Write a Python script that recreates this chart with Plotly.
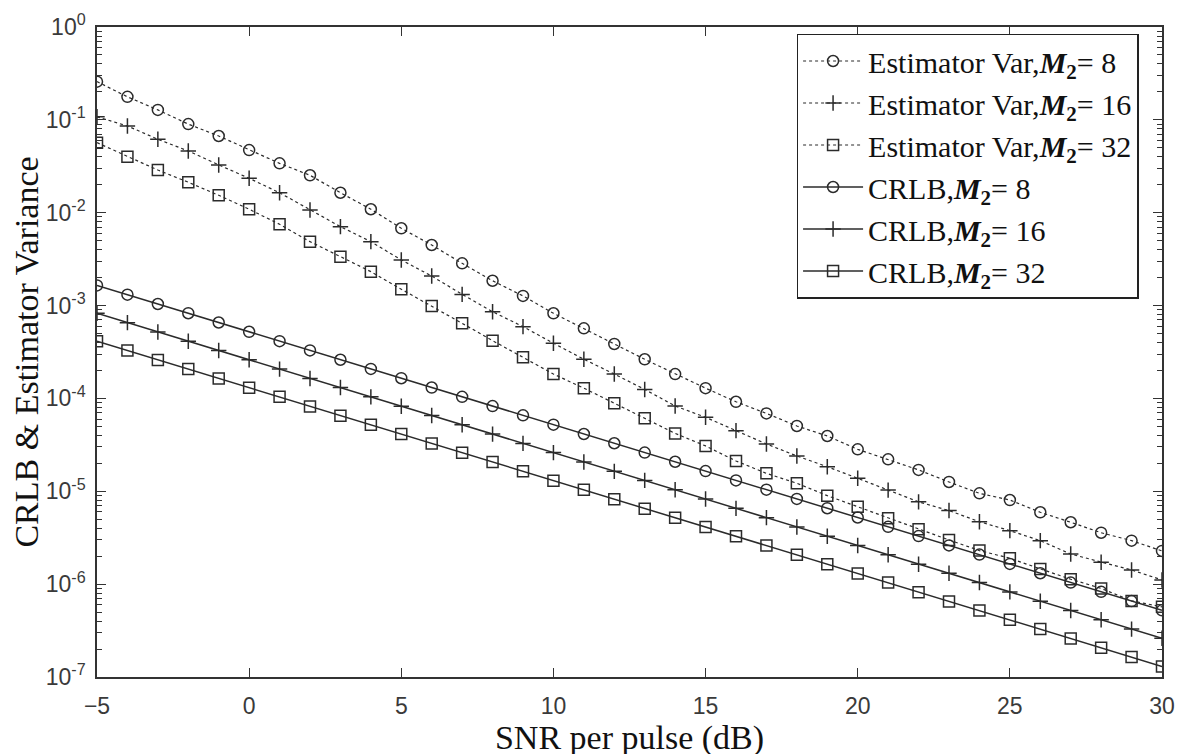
import plotly.graph_objects as go

snr_db = list(range(-5, 31))

est_var_m8 = [0.258, 0.177, 0.128, 0.090, 0.067, 0.0473, 0.034, 0.0253, 0.0164, 0.0109,
              0.0068, 0.00449, 0.00285, 0.00185, 0.00127, 0.000826, 0.000569, 0.000386,
              0.000264, 0.000183, 0.000129, 9.2e-5, 6.9e-5, 5.05e-5, 3.94e-5, 2.83e-5,
              2.21e-5, 1.70e-5, 1.26e-5, 9.5e-6, 8.05e-6, 5.94e-6, 4.64e-6, 3.58e-6,
              2.94e-6, 2.28e-6]
est_var_m16 = [0.108, 0.0859, 0.0618, 0.0462, 0.0327, 0.0235, 0.0164, 0.0107, 0.00708,
               0.00488, 0.0031, 0.00208, 0.00132, 0.000859, 0.000593, 0.000393, 0.000264,
               0.000183, 0.000125, 8.3e-5, 6.26e-5, 4.5e-5, 3.23e-5, 2.4e-5, 1.84e-5,
               1.38e-5, 1.03e-5, 7.7e-6, 6.2e-6, 4.7e-6, 3.77e-6, 2.94e-6, 2.11e-6,
               1.72e-6, 1.42e-6, 1.11e-6]
est_var_m32 = [0.0568, 0.0401, 0.0288, 0.0213, 0.0154, 0.0109, 0.0075, 0.00488, 0.00336,
               0.00232, 0.0015, 0.00099, 0.000644, 0.000419, 0.000277, 0.000183, 0.000129,
               8.87e-5, 6.1e-5, 4.2e-5, 3.08e-5, 2.12e-5, 1.56e-5, 1.22e-5, 8.97e-6,
               6.82e-6, 5.12e-6, 3.9e-6, 2.99e-6, 2.3e-6, 1.9e-6, 1.46e-6, 1.13e-6,
               9.0e-7, 6.6e-7, 5.7e-7]
crlb_m8 = [1.65e-3, 1.31e-3, 1.04e-3, 8.27e-4, 6.57e-4, 5.22e-4, 4.14e-4, 3.29e-4, 2.61e-4,
           2.08e-4, 1.65e-4, 1.31e-4, 1.04e-4, 8.27e-5, 6.57e-5, 5.22e-5, 4.14e-5, 3.29e-5,
           2.61e-5, 2.08e-5, 1.65e-5, 1.31e-5, 1.04e-5, 8.27e-6, 6.57e-6, 5.22e-6, 4.14e-6,
           3.29e-6, 2.61e-6, 2.08e-6, 1.65e-6, 1.31e-6, 1.04e-6, 8.27e-7, 6.57e-7, 5.22e-7]
crlb_m16 = [8.25e-4, 6.55e-4, 5.2e-4, 4.13e-4, 3.28e-4, 2.61e-4, 2.07e-4, 1.64e-4, 1.31e-4,
            1.04e-4, 8.25e-5, 6.55e-5, 5.2e-5, 4.13e-5, 3.28e-5, 2.61e-5, 2.07e-5, 1.64e-5,
            1.31e-5, 1.04e-5, 8.25e-6, 6.55e-6, 5.2e-6, 4.13e-6, 3.28e-6, 2.61e-6, 2.07e-6,
            1.64e-6, 1.31e-6, 1.04e-6, 8.25e-7, 6.55e-7, 5.2e-7, 4.13e-7, 3.28e-7, 2.61e-7]
crlb_m32 = [4.13e-4, 3.28e-4, 2.6e-4, 2.07e-4, 1.64e-4, 1.3e-4, 1.04e-4, 8.2e-5, 6.5e-5,
            5.2e-5, 4.13e-5, 3.28e-5, 2.6e-5, 2.07e-5, 1.64e-5, 1.3e-5, 1.04e-5, 8.2e-6,
            6.5e-6, 5.2e-6, 4.13e-6, 3.28e-6, 2.6e-6, 2.07e-6, 1.64e-6, 1.3e-6, 1.04e-6,
            8.2e-7, 6.5e-7, 5.2e-7, 4.13e-7, 3.28e-7, 2.6e-7, 2.07e-7, 1.64e-7, 1.3e-7]

x_ticks = [-5, 0, 5, 10, 15, 20, 25, 30]
y_ticks = [1e0, 1e-1, 1e-2, 1e-3, 1e-4, 1e-5, 1e-6, 1e-7]
y_tick_text = ["10<sup>0</sup>", "10<sup>-1</sup>", "10<sup>-2</sup>", "10<sup>-3</sup>",
               "10<sup>-4</sup>", "10<sup>-5</sup>", "10<sup>-6</sup>", "10<sup>-7</sup>"]

M2 = "<b><i>M</i><sub>2</sub></b>"
series = [
    ("Estimator Var," + M2 + "= 8", est_var_m8, "circle-open", "dot", 1.2),
    ("Estimator Var," + M2 + "= 16", est_var_m16, "cross-thin-open", "dot", 1.2),
    ("Estimator Var," + M2 + "= 32", est_var_m32, "square-open", "dot", 1.2),
    ("CRLB," + M2 + "= 8", crlb_m8, "circle-open", "solid", 1.5),
    ("CRLB," + M2 + "= 16", crlb_m16, "cross-thin-open", "solid", 1.5),
    ("CRLB," + M2 + "= 32", crlb_m32, "square-open", "solid", 1.5),
]

ink = "#2b2b2b"
tick_font = dict(family="Liberation Sans", size=23, color="#3a3a3a")
fig = go.Figure()
for i, (name, vals, sym, dash, lw) in enumerate(series):
    fig.add_trace(go.Scatter(
        x=snr_db, y=vals, name=name, mode="lines+markers", legendgroup=f"g{i}",
        line=dict(color=ink, width=lw, dash=dash),
        marker=dict(symbol=sym, size=11, color=ink, line=dict(color=ink, width=1.5)),
    ))

fig.update_layout(
    width=1185, height=754,
    margin=dict(l=89, r=31, t=19, b=85),
    paper_bgcolor="white", plot_bgcolor="white",
    font=dict(family="Liberation Sans", size=20, color="#333"),
    showlegend=True,
    legend=dict(
        x=0.978, y=0.99, xanchor="right", yanchor="top",
        bgcolor="white", bordercolor="#222", borderwidth=1.5,
        font=dict(family="Liberation Serif", size=30, color="#111"),
        tracegroupgap=0, itemwidth=60,
    ),
)
fig.update_xaxes(
    range=[-5, 30], tickvals=x_ticks, ticks="inside", ticklen=9, tickcolor="#333",
    ticklabelstandoff=8, tickfont=tick_font, automargin=False,
    showline=True, linecolor="#333", linewidth=1.5, mirror="ticks", showgrid=False,
    zeroline=False,
    title=dict(text="SNR per pulse (dB)", font=dict(family="Liberation Serif", size=34, color="#111"),
               standoff=0),
)
fig.update_yaxes(
    type="log", range=[-7, 0], tickvals=y_ticks, ticktext=y_tick_text,
    ticks="inside", ticklen=9, tickcolor="#333", ticklabelstandoff=5, tickfont=tick_font,
    automargin=False,
    minor=dict(ticks="inside", ticklen=5, tickcolor="#333", dtick="D1", showgrid=False),
    showline=True, linecolor="#333", linewidth=1.5, mirror="ticks", showgrid=False,
    zeroline=False,
    title=dict(text="CRLB &amp; Estimator Variance",
               font=dict(family="Liberation Serif", size=34, color="#111"), standoff=2),
)

fig.write_html("out.html")
